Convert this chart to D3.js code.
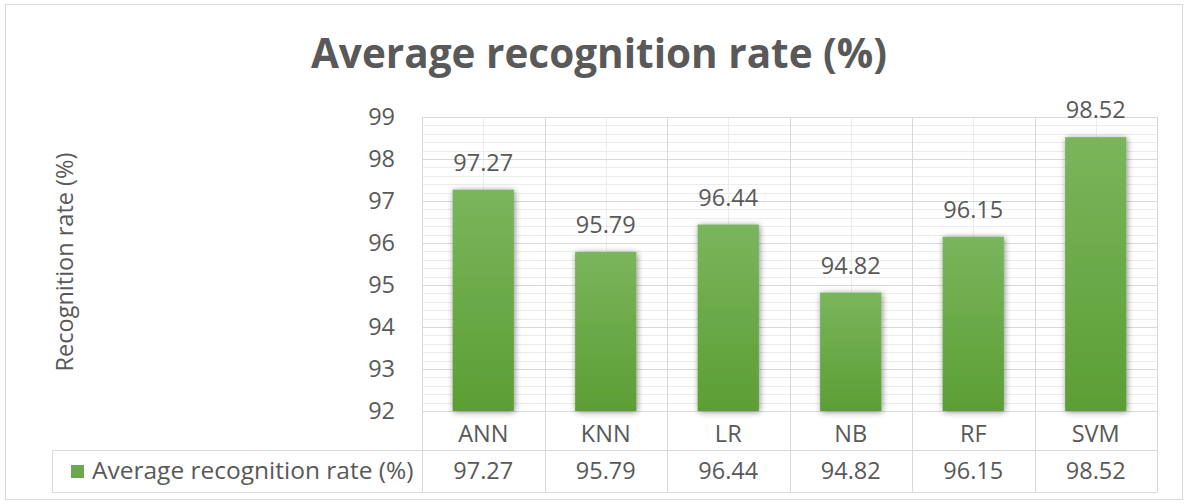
<!DOCTYPE html>
<html>
<head>
<meta charset="utf-8">
<script src="https://cdn.jsdelivr.net/npm/d3@7"></script>
<style>
  body { margin: 0; background: #fff; }
  text { font-family: "Open Sans", "Noto Sans", sans-serif; fill: #595959; }
</style>
</head>
<body>
<svg id="chart"></svg>
<script>
var categories = ["ANN", "KNN", "LR", "NB", "RF", "SVM"];
var rates = [97.27, 95.79, 96.44, 94.82, 96.15, 98.52];
var yTicks = [92, 93, 94, 95, 96, 97, 98, 99];
var seriesName = "Average recognition rate (%)";
var chartTitle = "Average recognition rate (%)";
var yTitle = "Recognition rate (%)";

var screen = {width: 1188, height: 504};
var margins = {top: 117, bottom: 93, left: 422, right: 31};
var graph = {
    width: screen.width - margins.left - margins.right,
    height: screen.height - margins.top - margins.bottom
};
var fontSize = "23.5px";

var svg = d3.select("#chart")
    .attr("width", screen.width)
    .attr("height", screen.height);

// gradient + soft shadow for bars
var defs = svg.append("defs");
var grad = defs.append("linearGradient")
    .attr("id", "barGrad")
    .attr("x1", 0).attr("y1", 0).attr("x2", 0).attr("y2", 1);
grad.append("stop").attr("offset", "0%").attr("stop-color", "#7ab55c");
grad.append("stop").attr("offset", "100%").attr("stop-color", "#5c9e34");

var shadow = defs.append("filter")
    .attr("id", "shadow")
    .attr("x", "-30%").attr("y", "-10%")
    .attr("width", "160%").attr("height", "120%");
shadow.append("feGaussianBlur")
    .attr("in", "SourceAlpha")
    .attr("stdDeviation", 3);
shadow.append("feOffset").attr("dx", 1).attr("dy", 1).attr("result", "blur");
shadow.append("feComponentTransfer")
    .append("feFuncA").attr("type", "linear").attr("slope", 0.45);
var merge = shadow.append("feMerge");
merge.append("feMergeNode");
merge.append("feMergeNode").attr("in", "SourceGraphic");

// outer frame
svg.append("rect")
    .attr("x", 5.5).attr("y", 4.5)
    .attr("width", screen.width - 11)
    .attr("height", screen.height - 9)
    .attr("fill", "#fff")
    .attr("stroke", "#d9d9d9");

var xScale = d3.scaleBand()
    .domain(categories)
    .range([0, graph.width])
    .paddingInner(0.5)
    .paddingOuter(0.25);

var bandScale = d3.scaleBand()
    .domain(categories)
    .range([0, graph.width]);

var yScale = d3.scaleLinear()
    .domain([92, 99])
    .range([graph.height, 0]);

var g = svg.append("g")
    .attr("transform", "translate(" + margins.left + "," + margins.top + ")");

// minor horizontal grid
var minorTicks = d3.range(92, 99.01, 0.2).filter(function(v) {
    return Math.abs(v - Math.round(v)) > 0.01;
});
g.append("g").selectAll("line")
    .data(minorTicks)
    .enter()
    .append("line")
    .attr("x1", 0).attr("x2", graph.width)
    .attr("y1", function(d) { return Math.round(yScale(d)) + 0.5; })
    .attr("y2", function(d) { return Math.round(yScale(d)) + 0.5; })
    .attr("stroke", "#ececec");

// minor vertical grid (middle of each category)
g.append("g").selectAll("line")
    .data(categories)
    .enter()
    .append("line")
    .attr("x1", function(d) { return Math.round(bandScale(d) + bandScale.bandwidth() / 2) + 0.5; })
    .attr("x2", function(d) { return Math.round(bandScale(d) + bandScale.bandwidth() / 2) + 0.5; })
    .attr("y1", 0).attr("y2", graph.height)
    .attr("stroke", "#ececec");

// major horizontal grid
g.append("g").selectAll("line")
    .data(yTicks)
    .enter()
    .append("line")
    .attr("x1", 0).attr("x2", graph.width)
    .attr("y1", function(d) { return Math.round(yScale(d)) + 0.5; })
    .attr("y2", function(d) { return Math.round(yScale(d)) + 0.5; })
    .attr("stroke", "#d9d9d9");

// data table geometry
var catRow = 39;
var valRow = 42;
var tableLeft = 52 - margins.left;
var boundaries = categories.map(function(c) { return bandScale(c); }).concat([graph.width]);

// vertical lines through plot and table
g.append("g").selectAll("line")
    .data(boundaries)
    .enter()
    .append("line")
    .attr("x1", function(d) { return Math.round(d) + 0.5; })
    .attr("x2", function(d) { return Math.round(d) + 0.5; })
    .attr("y1", 0)
    .attr("y2", graph.height + catRow + valRow)
    .attr("stroke", "#d9d9d9");

g.append("line")
    .attr("x1", tableLeft).attr("x2", graph.width)
    .attr("y1", graph.height + catRow + 0.5).attr("y2", graph.height + catRow + 0.5)
    .attr("stroke", "#d9d9d9");
g.append("line")
    .attr("x1", tableLeft).attr("x2", graph.width)
    .attr("y1", graph.height + catRow + valRow + 0.5).attr("y2", graph.height + catRow + valRow + 0.5)
    .attr("stroke", "#d9d9d9");
g.append("line")
    .attr("x1", tableLeft + 0.5).attr("x2", tableLeft + 0.5)
    .attr("y1", graph.height + catRow).attr("y2", graph.height + catRow + valRow)
    .attr("stroke", "#d9d9d9");

// bars
g.append("g").selectAll("rect")
    .data(rates)
    .enter()
    .append("rect")
    .attr("x", function(d, i) { return xScale(categories[i]); })
    .attr("y", function(d) { return yScale(d); })
    .attr("width", xScale.bandwidth())
    .attr("height", function(d) { return graph.height - yScale(d); })
    .attr("fill", "url(#barGrad)")
    .attr("filter", "url(#shadow)");

// value labels above bars
g.append("g").selectAll("text")
    .data(rates)
    .enter()
    .append("text")
    .attr("text-anchor", "middle")
    .attr("x", function(d, i) { return xScale(categories[i]) + xScale.bandwidth() / 2; })
    .attr("y", function(d) { return yScale(d) - 19; })
    .style("font-size", fontSize)
    .text(function(d) { return d.toFixed(2); });

// y axis
var yAxis = d3.axisLeft(yScale)
    .tickValues(yTicks)
    .tickFormat(d3.format("d"))
    .tickSize(0)
    .tickPadding(27);
var ya = g.append("g").call(yAxis);
ya.select(".domain").remove();
ya.selectAll("text")
    .style("font-size", fontSize)
    .style("font-family", "'Open Sans', sans-serif")
    .attr("fill", "#595959");

// category row
g.append("g").selectAll("text")
    .data(categories)
    .enter()
    .append("text")
    .attr("text-anchor", "middle")
    .attr("x", function(d) { return bandScale(d) + bandScale.bandwidth() / 2; })
    .attr("y", graph.height + 31)
    .style("font-size", fontSize)
    .text(function(d) { return d; });

// value row
g.append("g").selectAll("text")
    .data(rates)
    .enter()
    .append("text")
    .attr("text-anchor", "middle")
    .attr("x", function(d, i) { return bandScale(categories[i]) + bandScale.bandwidth() / 2; })
    .attr("y", graph.height + catRow + 29)
    .style("font-size", fontSize)
    .text(function(d) { return d.toFixed(2); });

// legend key inside table
g.append("rect")
    .attr("x", tableLeft + 19)
    .attr("y", graph.height + catRow + 15)
    .attr("width", 13).attr("height", 13)
    .attr("fill", "#6aa84f");
g.append("text")
    .attr("x", tableLeft + 40)
    .attr("y", graph.height + catRow + 29)
    .style("font-size", "24.5px")
    .text(seriesName);

// title
svg.append("text")
    .attr("text-anchor", "middle")
    .attr("x", 599)
    .attr("y", 68)
    .style("font-size", "40.5px")
    .style("font-weight", "bold")
    .text(chartTitle);

// y title
svg.append("g")
    .attr("transform", "translate(73," + 262 + ")")
    .append("text")
    .attr("text-anchor", "middle")
    .attr("transform", "rotate(-90)")
    .style("font-size", "23.5px")
    .text(yTitle);
</script>
</body>
</html>
